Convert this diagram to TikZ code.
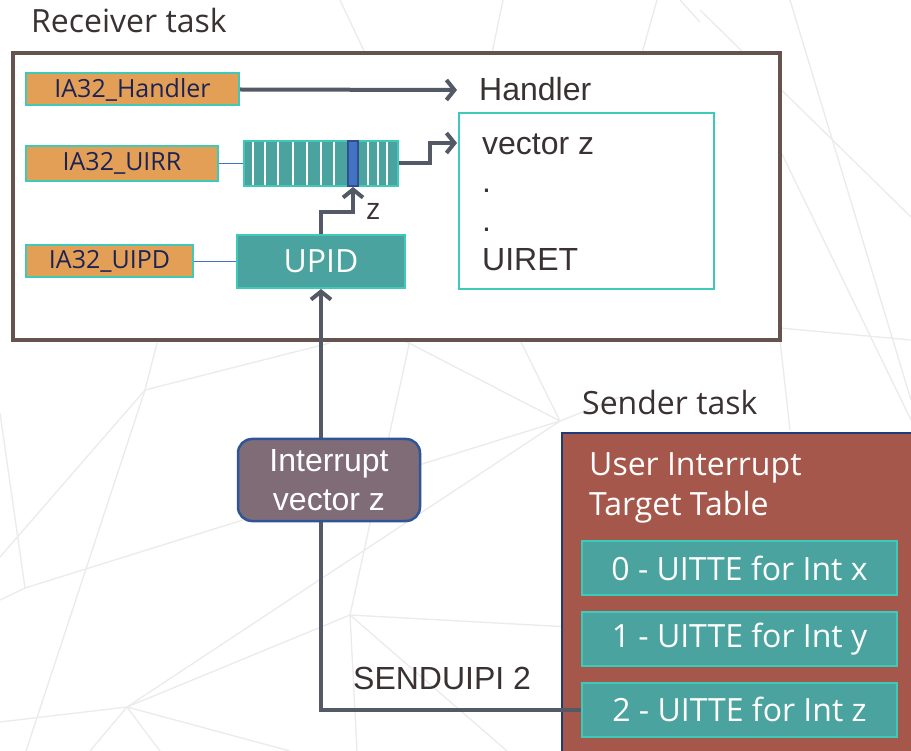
\documentclass[tikz,border=0pt]{standalone}
\usepackage{fontspec}
\setmainfont{Open Sans}
\newfontfamily\arialf{Liberation Sans}
\usetikzlibrary{arrows.meta}
\definecolor{tealb}{HTML}{3EC9B9}
\definecolor{tealf}{HTML}{4AA39F}
\definecolor{orangef}{HTML}{E49F57}
\definecolor{navy}{HTML}{1B2356}
\definecolor{agray}{HTML}{535A66}
\definecolor{brownb}{HTML}{64534E}
\definecolor{mauve}{HTML}{7F6C76}
\definecolor{blueb}{HTML}{2E5597}
\definecolor{brick}{HTML}{A4574A}
\definecolor{senderb}{HTML}{1D3A7A}
\definecolor{dtext}{HTML}{3A3232}
\definecolor{cellf}{HTML}{4472C4}
\definecolor{celld}{HTML}{2F4F8F}
\definecolor{thinb}{HTML}{4472C4}
\definecolor{bgl}{HTML}{EBEBEB}
\newcommand{\fsz}[2]{\fontsize{#1}{#2}\selectfont}
\begin{document}
\begin{tikzpicture}[x=1pt,y=-1pt,
  reg/.style={draw=tealb, line width=2pt, fill=orangef, text=navy, font=\fsz{25}{30}, inner sep=0pt},
  tealbox/.style={draw=tealb, line width=2pt, fill=tealf, text=white, inner sep=0pt},
  conn/.style={draw=agray, line width=4pt},
  arr/.style={conn, -{Straight Barb[length=8pt,width=20pt]}},
  thin/.style={draw=thinb, line width=0.9pt},
  lbl/.style={inner sep=0pt, text=dtext},
  bgline/.style={draw=bgl, line width=1.3pt}]
\useasboundingbox (0,0) rectangle (911,751);
\fill[white] (0,0) rectangle (911,751);
% faint background network
\coordinate (V1) at (560,421);
\coordinate (V2) at (350,615);
\coordinate (V3) at (127,707);
\coordinate (V4) at (25,588);
\coordinate (V5) at (145,390);
\foreach \a/\b in {V3/V1, V4/V1, V3/V2}
  \draw[bgline] (\a) -- (\b);
\foreach \p/\q in {V2/{(570,627)}, V2/{(410,340)}, V2/{(357,751)}, V2/{(507,751)},
  V1/{(403,340)}, V1/{(520,340)}, V1/{(620,397)},
  V3/{(0,722)}, V3/{(90,751)}, V3/{(160,751)}, V3/{(290,751)},
  V5/{(26,751)}, V5/{(0,557)}, V5/{(157,343)}, V5/{(330,343)},
  V4/{(0,413)}, V4/{(0,600)}}
  \draw[bgline] (\p) -- \q;
\draw[bgline] (340,0) -- (365,53);
\draw[bgline] (503,0) -- (492,53);
\draw[bgline] (657,0) -- (642,53);
\draw[bgline] (680,0) -- (700,22);
\draw[bgline] (700,10) -- (911,217);
\draw[bgline] (790,0) -- (911,400);
\draw[bgline] (780,150) -- (911,420);
\draw[bgline] (780,328) -- (911,340);
\draw[bgline] (780,340) -- (790,430);

% receiver
\node[lbl, anchor=base west, font=\fsz{32}{38}] (rtitle) at (31,33) {Receiver task};
\node[draw=brownb, fill=white, line width=3.5pt, minimum width=767pt, minimum height=287pt, inner sep=0pt] (recv) at (396.5,196.5) {};

\node[reg, minimum width=213pt, minimum height=32pt] (iah) at (132.5,89.5) {IA32\_Handler};
\node[reg, minimum width=192pt, minimum height=35pt] (uirr) at (122,163.5) {IA32\_UIRR};
\node[reg, minimum width=167pt, minimum height=32pt] (uipd) at (109.5,261.5) {IA32\_UIPD};

\node[tealbox, minimum width=154pt, minimum height=45pt] (bar) at (321,163.5) {};
\foreach \x in {253,265,278,293,307,321,334,368,378,387}
  \draw[white, line width=1.3pt] (\x,142) -- (\x,185);
\node[draw=celld, fill=cellf, line width=2pt, minimum width=10pt, minimum height=45pt, inner sep=0pt] (cell) at (353,163.5) {};

\node[tealbox, minimum width=168pt, minimum height=53pt, font=\fsz{32}{38}] (upid) at (321,261.5) {UPID};

\draw[thin] (uirr.east) -- (bar.west);
\draw[thin] (uipd.east) -- (upid.west);

\node[lbl, anchor=base west, font=\arialf\fsz{32}{38}] (htxt) at (479,101) {Handler};
\node[draw=tealb, line width=2pt, fill=white, minimum width=255pt, minimum height=176pt, inner sep=0pt] (hbox) at (586.5,201) {};
\node[lbl, anchor=base west, font=\arialf\fsz{32}{38}] (vz) at (482,155) {vector z};
\node[lbl, anchor=base west, font=\arialf\fsz{32}{38}] (d1) at (482,193) {.};
\node[lbl, anchor=base west, font=\arialf\fsz{32}{38}] (d2) at (482,232) {.};
\node[lbl, anchor=base west, font=\arialf\fsz{32}{38}] (uiret) at (482,271) {UIRET};

\coordinate (hend) at (457,90);
\coordinate (vend) at (457,143);
\draw[arr] (iah.east) -- (hend);
\draw[arr] (bar.east) -- (430,163.5) -- (430,143) -- (vend);
\draw[arr] (upid.north) -- ++(0,-22) -| (cell.south);
\node[lbl, anchor=base west, font=\fsz{30}{34}] (zl) at (366,220) {z};

% sender
\node[lbl, anchor=base west, font=\fsz{32}{38}] (stitle) at (582,415) {Sender task};
\node[draw=senderb, fill=brick, line width=2.5pt, minimum width=368pt, minimum height=337pt, inner sep=0pt] (send) at (746,601.5) {};
\node[inner sep=0pt, anchor=base west, text=white, align=left, font=\fsz{32}{40}] (uitt) at (589,515) {User Interrupt\\Target Table};

\node[tealbox, minimum width=315pt, minimum height=54pt, font=\fsz{32}{38}] (u0) at (739.5,568) {0 - UITTE for Int x};
\node[tealbox, minimum width=315pt, minimum height=54pt, font=\fsz{32}{38}] (u1) at (739.5,639) {1 - UITTE for Int y};
\node[tealbox, minimum width=315pt, minimum height=54pt, font=\fsz{32}{38}] (u2) at (739.5,709.5) {2 - UITTE for Int z};

\draw[arr] (u2.west) -| (upid.south);
\node[draw=blueb, fill=mauve, line width=2.5pt, rounded corners=14pt, minimum width=182pt, minimum height=82pt, text=white, align=center, font=\arialf\fsz{32}{39}, inner sep=0pt] (ivz) at (329,480) {Interrupt\\vector z};
\node[lbl, anchor=base west, font=\arialf\fsz{32}{38}] (sui) at (353,689) {SENDUIPI 2};
\end{tikzpicture}
\end{document}
